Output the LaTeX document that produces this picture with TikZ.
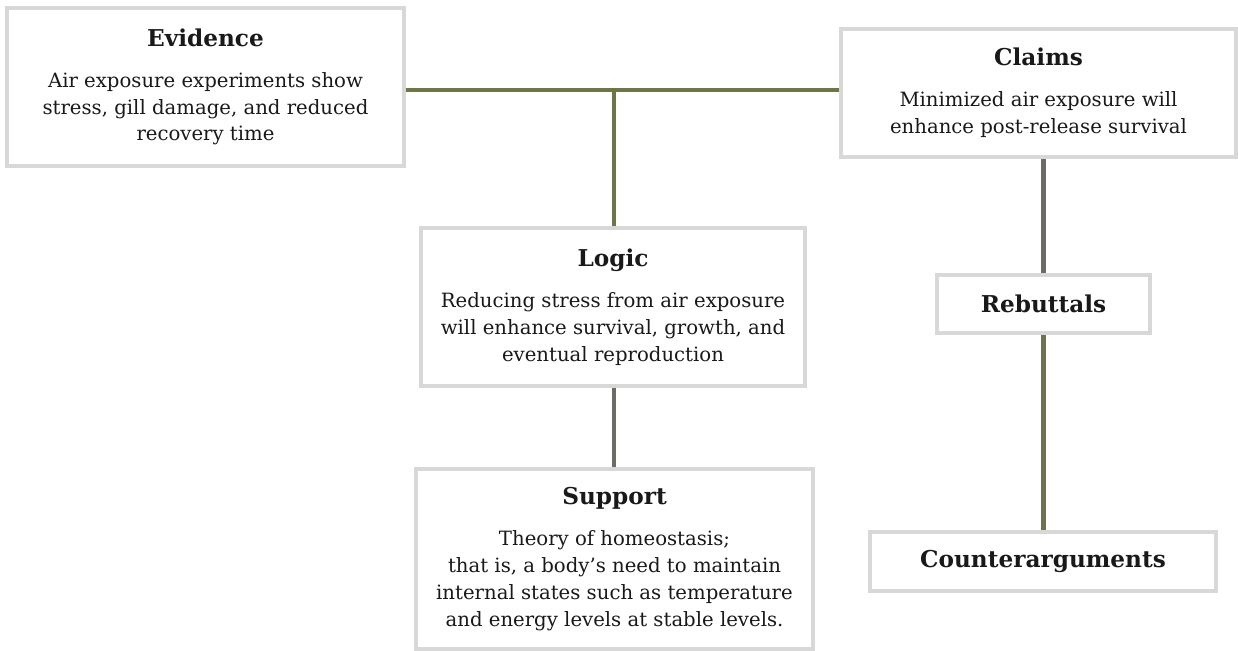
\documentclass[tikz,border=0pt]{standalone}
\usepackage{fontspec}
\setmainfont{DejaVu Serif}
\usepackage{xcolor}
\usepackage{tikz}
\usetikzlibrary{positioning,calc}
\definecolor{olivelink}{RGB}{112, 117, 72}
\definecolor{greylink}{RGB}{108, 108, 102}
\definecolor{boxedge}{RGB}{216, 216, 216}
\definecolor{inkblack}{RGB}{25, 25, 25}

\tikzset{
  partbox/.style={draw=boxedge, line width=1.8pt, fill=white, rectangle,
    align=center, text=inkblack, font=\fontsize{11.2}{15.3}\selectfont, inner sep=0pt},
  tagbox/.style={partbox, font=\bfseries\fontsize{13.2}{15}\selectfont},
  olive/.style={draw=olivelink, line width=2.3pt},
  grey/.style={draw=greylink, line width=2.3pt}
}
\newcommand{\parthead}[1]{{\bfseries\fontsize{13.2}{15}\selectfont #1}\\[8pt]}

\begin{document}
\begin{tikzpicture}
    \useasboundingbox (0,0) rectangle (24.76,13.02);

    % argument parts
    \node[partbox, minimum width=7.94cm, minimum height=3.16cm] (evidence) at (4.11,11.28)
        {\parthead{Evidence}Air exposure experiments show\\stress, gill damage, and reduced\\recovery time};
    \node[partbox, minimum width=7.9cm, minimum height=2.56cm] (claims) at (20.77,11.16)
        {\parthead{Claims}Minimized air exposure will\\enhance post-release survival};
    \node[partbox, minimum width=7.68cm, minimum height=3.16cm] (logic) at (12.26,6.88)
        {\parthead{Logic}Reducing stress from air exposure\\will enhance survival, growth, and\\eventual reproduction};
    \node[partbox, minimum width=7.94cm, minimum height=3.6cm] (support) at (12.29,1.84)
        {\parthead{Support}Theory of homeostasis;\\that is, a body's need to maintain\\internal states such as temperature\\and energy levels at stable levels.};
    \node[tagbox, minimum width=4.26cm, minimum height=1.16cm] (rebuttals) at (20.87,6.94) {Rebuttals};
    \node[tagbox, minimum width=6.92cm, minimum height=1.18cm] (counter) at (20.86,1.79) {Counterarguments};

    % links
    \coordinate (hub) at (12.28,11.22);
    \draw[olive] (evidence.east |- hub) -- (claims.west |- hub);
    \draw[olive] (hub) -- (logic.north -| hub);
    \draw[grey] (logic.south -| hub) -- (support.north -| hub);
    \draw[grey] (claims.south -| rebuttals.north) -- (rebuttals.north);
    \draw[olive, draw=olivelink!60!greylink] (rebuttals.south) -- (counter.north -| rebuttals.south);
\end{tikzpicture}
\end{document}
